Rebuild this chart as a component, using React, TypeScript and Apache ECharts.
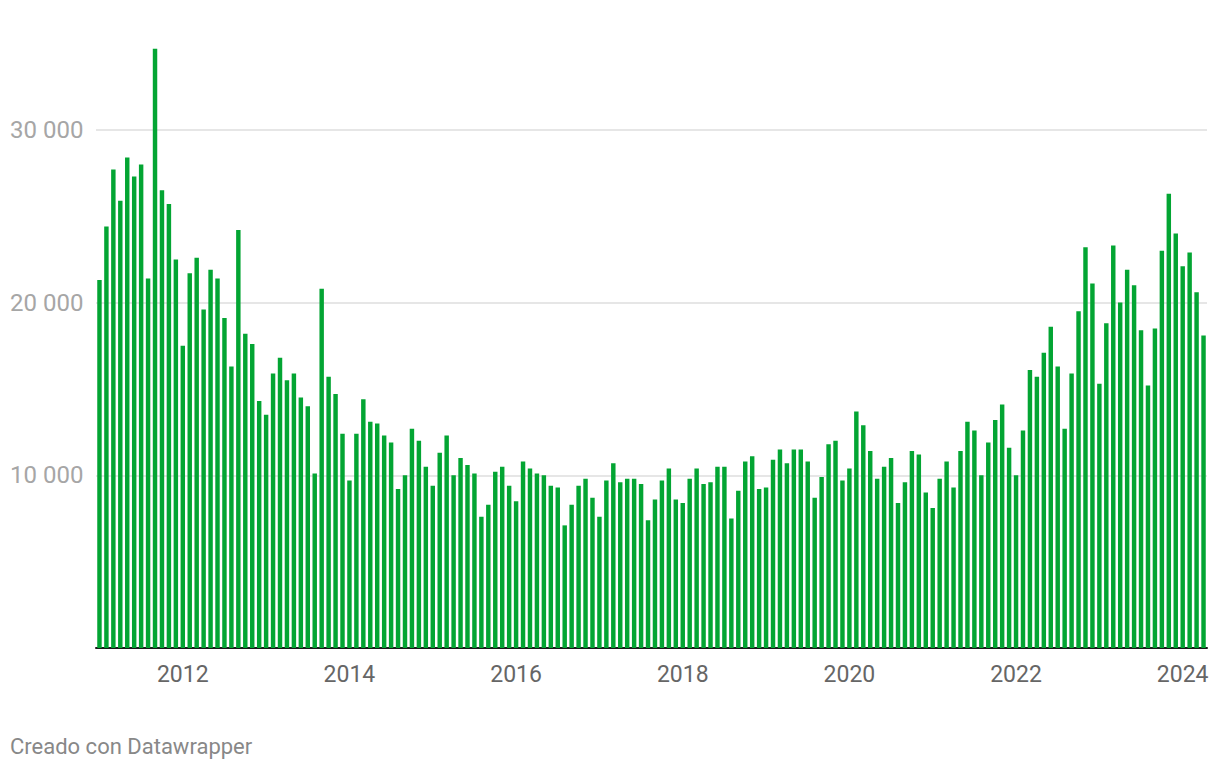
import React, { useEffect, useRef } from "react";
import * as echarts from "echarts";

const years = [2011, 2012, 2013, 2014, 2015, 2016, 2017, 2018, 2019, 2020, 2021, 2022, 2023, 2024];

const v2011 = [21300, 24400, 27700, 25900, 28400, 27300, 28000, 21400, 34700, 26500, 25700, 22500];
const v2012 = [17500, 21700, 22600, 19600, 21900, 21400, 19100, 16300, 24200, 18200, 17600, 14300];
const v2013 = [13500, 15900, 16800, 15500, 15900, 14500, 14000, 10100, 20800, 15700, 14700, 12400];
const v2014 = [9700, 12400, 14400, 13100, 13000, 12300, 11900, 9200, 10000, 12700, 12000, 10500];
const v2015 = [9400, 11300, 12300, 10000, 11000, 10600, 10100, 7600, 8300, 10200, 10500, 9400];
const v2016 = [8500, 10800, 10400, 10100, 10000, 9400, 9300, 7100, 8300, 9400, 9800, 8700];
const v2017 = [7600, 9700, 10700, 9600, 9800, 9800, 9500, 7400, 8600, 9700, 10400, 8600];
const v2018 = [8400, 9800, 10400, 9500, 9600, 10500, 10500, 7500, 9100, 10800, 11100, 9200];
const v2019 = [9300, 10900, 11500, 10700, 11500, 11500, 10800, 8700, 9900, 11800, 12000, 9700];
const v2020 = [10400, 13700, 12900, 11400, 9800, 10500, 11000, 8400, 9600, 11400, 11200, 9000];
const v2021 = [8100, 9800, 10800, 9300, 11400, 13100, 12600, 10000, 11900, 13200, 14100, 11600];
const v2022 = [10000, 12600, 16100, 15700, 17100, 18600, 16300, 12700, 15900, 19500, 23200, 21100];
const v2023 = [15300, 18800, 23300, 20000, 21900, 21000, 18400, 15200, 18500, 23000, 26300, 24000];
const v2024 = [22100, 22900, 20600, 18100];

const yearValues = [v2011, v2012, v2013, v2014, v2015, v2016, v2017, v2018, v2019, v2020, v2021, v2022, v2023, v2024];

const yTicks = [10000, 20000, 30000];
const footerText = "Creado con Datawrapper";

const categories: string[] = [];
const values: number[] = [];
yearValues.forEach((arr, yi) => {
  arr.forEach((v, mi) => {
    categories.push(`${years[yi]}-${String(mi + 1).padStart(2, "0")}`);
    values.push(v);
  });
});

function fmt(v: number) {
  return String(v).replace(/\B(?=(\d{3})+(?!\d))/g, " ");
}

export default function App() {
  const ref = useRef<HTMLDivElement>(null);
  useEffect(() => {
    if (!ref.current) return;
    const chart = echarts.init(ref.current, undefined, { renderer: "svg" });
    chart.setOption({
      animation: false,
      backgroundColor: "#ffffff",
      textStyle: { fontFamily: "Roboto" },
      grid: { left: 96, right: 13, top: 43.5, bottom: 122 },
      xAxis: {
        type: "category",
        data: categories,
        axisTick: { show: false },
        axisLine: { show: true, lineStyle: { color: "#1a1a1a", width: 2 } },
        axisLabel: {
          interval: (index: number) => index % 24 === 12,
          formatter: (v: string) => v.slice(0, 4),
          color: "#666666",
          fontSize: 23,
          margin: 15,
          fontFamily: "Roboto",
        },
        splitLine: { show: false },
      },
      yAxis: {
        type: "value",
        min: 0,
        max: 35000,
        interval: 10000,
        axisLine: { show: false },
        axisTick: { show: false },
        splitLine: {
          show: true,
          showMaxLine: false,
          showMinLine: false,
          lineStyle: { color: "#e6e6e6", width: 2 },
        },
        axisLabel: {
          formatter: (v: number) => (yTicks.includes(v) ? fmt(v) : ""),
          color: "#a6a6a6",
          fontSize: 24,
          align: "left",
          margin: 86,
          fontFamily: "Roboto",
        },
      },
      series: [
        {
          type: "bar",
          data: values,
          barCategoryGap: "36%",
          itemStyle: { color: "#03a533" },
        },
      ],
      graphic: [
        {
          type: "text",
          x: 10,
          y: 746,
          style: {
            text: footerText,
            fill: "#888888",
            fontSize: 22,
            fontFamily: "Roboto",
            verticalAlign: "middle",
          },
        },
      ],
    });
    return () => chart.dispose();
  }, []);
  return (
    <div
      ref={ref}
      style={{ position: "fixed", left: 0, top: 0, width: 1220, height: 770 }}
    />
  );
}
